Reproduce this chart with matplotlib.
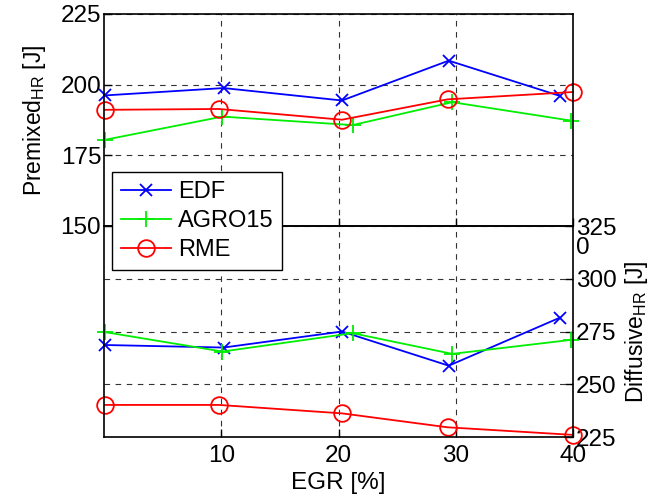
import matplotlib
matplotlib.use("Agg")
import matplotlib.pyplot as plt

plt.rcParams['font.family'] = ['Liberation Sans', 'DejaVu Sans']

series = ["EDF", "AGRO15", "RME"]
colors = {"EDF": "#0000ff", "AGRO15": "#00ee00", "RME": "#ff0000"}
markers = {"EDF": "x", "AGRO15": "+", "RME": "o"}

# Premixed heat release (top panel)
egr_pre = {
    "EDF":    [0.1, 10.2, 20.3, 29.4, 38.9],
    "AGRO15": [0.1, 10.1, 21.2, 29.7, 39.8],
    "RME":    [0.1, 9.8, 20.3, 29.3, 40.0],
}
premixed = {
    "EDF":    [196.2, 198.8, 194.4, 208.5, 196.0],
    "AGRO15": [180.5, 188.7, 185.7, 193.8, 187.3],
    "RME":    [191.1, 191.4, 187.6, 194.8, 197.4],
}
# Diffusive heat release (bottom panel)
egr_dif = {
    "EDF":    [0.1, 10.2, 20.3, 29.4, 38.9],
    "AGRO15": [0.1, 10.1, 21.2, 29.7, 39.8],
    "RME":    [0.1, 9.8, 20.3, 29.3, 40.0],
}
diffusive = {
    "EDF":    [268.6, 267.4, 275.0, 258.8, 281.6],
    "AGRO15": [274.7, 265.5, 274.2, 264.4, 271.0],
    "RME":    [240.2, 240.2, 236.2, 229.6, 226.0],
}
xticks = [10, 20, 30, 40]
top_yticks = [150, 175, 200, 225]
bot_yticks = [225, 250, 275, 300, 325]

fig = plt.figure(figsize=(6.67, 4.98), dpi=100)
L, W = 104/667, (573-104)/667
ax1 = fig.add_axes([L, 1-226/498, W, (226-14)/498])
ax2 = fig.add_axes([L, 1-437/498, W, (437-226)/498])

tfs = 17.5
lfs = 16.5
mstyle = {"EDF": dict(ms=9, mew=1.3), "AGRO15": dict(ms=12, mew=1.3),
          "RME": dict(ms=12, mew=1.3, mfc='none')}
handles = []
for s in series:
    h, = ax1.plot(egr_pre[s], premixed[s], color=colors[s], marker=markers[s],
                  lw=1.3, label=s, clip_on=False, **mstyle[s])
    handles.append(h)
    ax2.plot(egr_dif[s], diffusive[s], color=colors[s], marker=markers[s],
             lw=1.3, clip_on=False, **mstyle[s])

grid_kw = dict(color='#333333', linestyle=(0, (5, 5)), linewidth=0.8)
for ax in (ax1, ax2):
    ax.set_xlim(0, 40)
    ax.set_xticks(xticks)
    ax.grid(True, **grid_kw)
    ax.set_axisbelow(True)
    for sp in ax.spines.values():
        sp.set_linewidth(1.2)
    ax.tick_params(direction='in', length=6, width=1, labelsize=tfs, pad=2)

ax1.set_ylim(150, 225)
ax1.set_yticks(top_yticks)
ax1.tick_params(axis='x', labelbottom=False)
ax1.set_ylabel("Premixed$_{\\mathregular{HR}}$ [J]", fontsize=lfs, labelpad=9)

ax2.set_ylim(225, 325)
ax2.set_yticks(bot_yticks)
ax2.yaxis.tick_right()
ax2.yaxis.set_label_position('right')
ax2.tick_params(axis='y', left=False, right=True, labelleft=False, labelright=True)
ax2.tick_params(axis='x', pad=6)
ax2.set_ylabel("Diffusive$_{\\mathregular{HR}}$ [J]", fontsize=lfs, labelpad=5)
ax2.set_xlabel("EGR [%]", fontsize=tfs, labelpad=3)
ax2.patch.set_alpha(0)

fig.text(576/667, 1-254/498, "0", fontsize=tfs, ha='left', va='baseline')

leg = fig.legend(handles=handles, loc='upper left',
                 bbox_to_anchor=(112/667, 1-172/498), fontsize=17,
                 frameon=True, fancybox=False, edgecolor='black',
                 framealpha=1, handlelength=2.1, borderaxespad=0,
                 labelspacing=0.3, handletextpad=0.3, borderpad=0.38)
leg.get_frame().set_linewidth(1.0)

fig.savefig("out.png", dpi=100)
